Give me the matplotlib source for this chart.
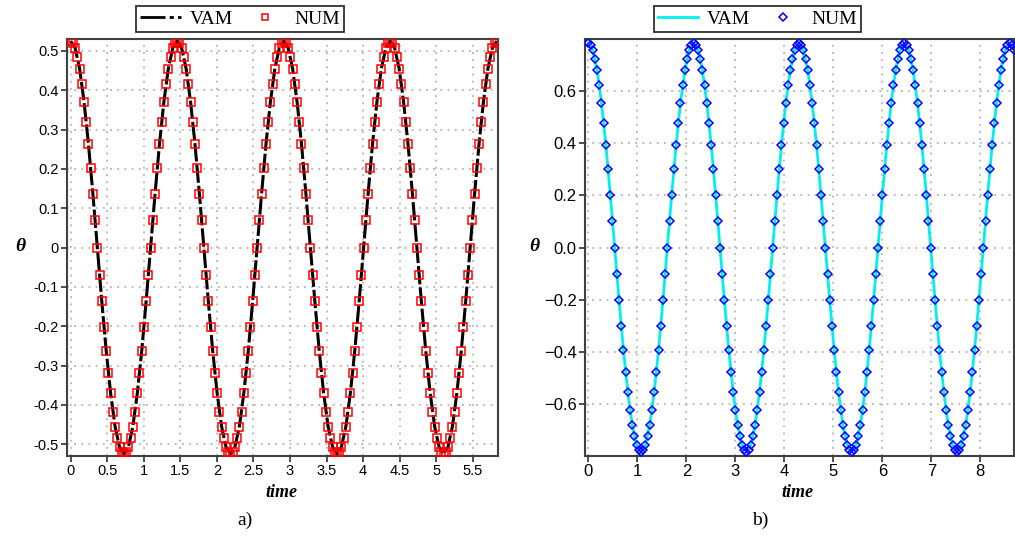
import numpy as np
import matplotlib
matplotlib.use("Agg")
import matplotlib.pyplot as plt
from matplotlib.lines import Line2D

# ---- panel a) : theta(t), period ~1.457, sampled 48 times per period ----
period_a = 1.457
num_a = [
    0.525, 0.521, 0.507, 0.485, 0.455, 0.417, 0.371, 0.320, 0.263, 0.201, 0.136, 0.069,
    0.000, -0.069, -0.136, -0.201, -0.263, -0.320, -0.371, -0.417, -0.455, -0.485, -0.507, -0.521,
    -0.525, -0.521, -0.507, -0.485, -0.455, -0.417, -0.371, -0.320, -0.263, -0.201, -0.136, -0.069,
    0.000, 0.069, 0.136, 0.201, 0.263, 0.320, 0.371, 0.417, 0.455, 0.485, 0.507, 0.521,
    0.525, 0.521, 0.507, 0.485, 0.455, 0.417, 0.371, 0.320, 0.263, 0.201, 0.136, 0.069,
    0.000, -0.069, -0.136, -0.201, -0.263, -0.320, -0.371, -0.417, -0.455, -0.485, -0.507, -0.521,
    -0.525, -0.521, -0.507, -0.485, -0.455, -0.417, -0.371, -0.320, -0.263, -0.201, -0.136, -0.069,
    0.000, 0.069, 0.136, 0.201, 0.263, 0.320, 0.371, 0.417, 0.455, 0.485, 0.507, 0.521,
    0.525, 0.521, 0.507, 0.485, 0.455, 0.417, 0.371, 0.320, 0.263, 0.201, 0.136, 0.069,
    0.000, -0.069, -0.136, -0.201, -0.263, -0.320, -0.371, -0.417, -0.455, -0.485, -0.507, -0.521,
    -0.525, -0.521, -0.507, -0.485, -0.455, -0.417, -0.371, -0.320, -0.263, -0.201, -0.136, -0.069,
    0.000, 0.069, 0.136, 0.201, 0.263, 0.320, 0.371, 0.417, 0.455, 0.485, 0.507, 0.521,
    0.525, 0.521, 0.507, 0.485, 0.455, 0.417, 0.371, 0.320, 0.263, 0.201, 0.136, 0.069,
    0.000, -0.069, -0.136, -0.201, -0.263, -0.320, -0.371, -0.417, -0.455, -0.485, -0.507, -0.521,
    -0.525, -0.521, -0.507, -0.485, -0.455, -0.417, -0.371, -0.320, -0.263, -0.201, -0.136, -0.069,
    0.000, 0.069, 0.136, 0.201, 0.263, 0.320, 0.371, 0.417, 0.455, 0.485, 0.507, 0.521,
    0.525,
]
vam_a = [
    0.525, 0.507, 0.455, 0.371, 0.263, 0.136, 0.000, -0.136, -0.263, -0.371, -0.455, -0.507,
    -0.525, -0.507, -0.455, -0.371, -0.263, -0.136, 0.000, 0.136, 0.263, 0.371, 0.455, 0.507,
    0.525, 0.507, 0.455, 0.371, 0.263, 0.136, 0.000, -0.136, -0.263, -0.371, -0.455, -0.507,
    -0.525, -0.507, -0.455, -0.371, -0.263, -0.136, 0.000, 0.136, 0.263, 0.371, 0.455, 0.507,
    0.525, 0.507, 0.455, 0.371, 0.263, 0.136, 0.000, -0.136, -0.263, -0.371, -0.455, -0.507,
    -0.525, -0.507, -0.455, -0.371, -0.263, -0.136, 0.000, 0.136, 0.263, 0.371, 0.455, 0.507,
    0.525, 0.507, 0.455, 0.371, 0.263, 0.136, 0.000, -0.136, -0.263, -0.371, -0.455, -0.507,
    -0.525, -0.507, -0.455, -0.371, -0.263, -0.136, 0.000, 0.136, 0.263, 0.371, 0.455, 0.507,
    0.525,
]
xticks_a = [0, 0.5, 1, 1.5, 2, 2.5, 3, 3.5, 4, 4.5, 5, 5.5]
xlabels_a = ["0", "0.5", "1", "1.5", "2", "2.5", "3", "3.5", "4", "4.5", "5", "5.5"]
yticks_a = [-0.5, -0.4, -0.3, -0.2, -0.1, 0, 0.1, 0.2, 0.3, 0.4, 0.5]
ylabels_a = ["-0.5", "-0.4", "-0.3", "-0.2", "-0.1", "0", "0.1", "0.2", "0.3", "0.4", "0.5"]

# ---- panel b) : theta(t), period ~2.15 ----
period_b = 2.15
num_b = [
    0.785, 0.778, 0.758, 0.725, 0.680, 0.623, 0.555, 0.478, 0.393, 0.300, 0.203, 0.102,
    0.000, -0.102, -0.203, -0.300, -0.393, -0.478, -0.555, -0.623, -0.680, -0.725, -0.758, -0.778,
    -0.785, -0.778, -0.758, -0.725, -0.680, -0.623, -0.555, -0.478, -0.393, -0.300, -0.203, -0.102,
    0.000, 0.102, 0.203, 0.300, 0.393, 0.478, 0.555, 0.623, 0.680, 0.725, 0.758, 0.778,
    0.785, 0.778, 0.758, 0.725, 0.680, 0.623, 0.555, 0.478, 0.393, 0.300, 0.203, 0.102,
    0.000, -0.102, -0.203, -0.300, -0.393, -0.478, -0.555, -0.623, -0.680, -0.725, -0.758, -0.778,
    -0.785, -0.778, -0.758, -0.725, -0.680, -0.623, -0.555, -0.478, -0.393, -0.300, -0.203, -0.102,
    0.000, 0.102, 0.203, 0.300, 0.393, 0.478, 0.555, 0.623, 0.680, 0.725, 0.758, 0.778,
    0.785, 0.778, 0.758, 0.725, 0.680, 0.623, 0.555, 0.478, 0.393, 0.300, 0.203, 0.102,
    0.000, -0.102, -0.203, -0.300, -0.393, -0.478, -0.555, -0.623, -0.680, -0.725, -0.758, -0.778,
    -0.785, -0.778, -0.758, -0.725, -0.680, -0.623, -0.555, -0.478, -0.393, -0.300, -0.203, -0.102,
    0.000, 0.102, 0.203, 0.300, 0.393, 0.478, 0.555, 0.623, 0.680, 0.725, 0.758, 0.778,
    0.785, 0.778, 0.758, 0.725, 0.680, 0.623, 0.555, 0.478, 0.393, 0.300, 0.203, 0.102,
    0.000, -0.102, -0.203, -0.300, -0.393, -0.478, -0.555, -0.623, -0.680, -0.725, -0.758, -0.778,
    -0.785, -0.778, -0.758, -0.725, -0.680, -0.623, -0.555, -0.478, -0.393, -0.300, -0.203, -0.102,
    0.000, 0.102, 0.203, 0.300, 0.393, 0.478, 0.555, 0.623, 0.680, 0.725, 0.758, 0.778,
    0.785, 0.778, 0.758,
]
vam_b = [
    0.785, 0.758, 0.680, 0.555, 0.393, 0.203, 0.000, -0.203, -0.393, -0.555, -0.680, -0.758,
    -0.785, -0.758, -0.680, -0.555, -0.393, -0.203, 0.000, 0.203, 0.393, 0.555, 0.680, 0.758,
    0.785, 0.758, 0.680, 0.555, 0.393, 0.203, 0.000, -0.203, -0.393, -0.555, -0.680, -0.758,
    -0.785, -0.758, -0.680, -0.555, -0.393, -0.203, 0.000, 0.203, 0.393, 0.555, 0.680, 0.758,
    0.785, 0.758, 0.680, 0.555, 0.393, 0.203, 0.000, -0.203, -0.393, -0.555, -0.680, -0.758,
    -0.785, -0.758, -0.680, -0.555, -0.393, -0.203, 0.000, 0.203, 0.393, 0.555, 0.680, 0.758,
    0.785, 0.758, 0.680, 0.555, 0.393, 0.203, 0.000, -0.203, -0.393, -0.555, -0.680, -0.758,
    -0.785, -0.758, -0.680, -0.555, -0.393, -0.203, 0.000, 0.203, 0.393, 0.555, 0.680, 0.758,
    0.785, 0.758,
]
xticks_b = [0, 1, 2, 3, 4, 5, 6, 7, 8]
xlabels_b = ["0", "1", "2", "3", "4", "5", "6", "7", "8"]
yticks_b = [-0.6, -0.4, -0.2, 0.0, 0.2, 0.4, 0.6]
ylabels_b = ["\u22120.6", "\u22120.4", "\u22120.2", "0.0", "0.2", "0.4", "0.6"]

SERIF = ["Liberation Serif", "DejaVu Serif"]
SANS = ["Liberation Sans", "DejaVu Sans"]


def style_axes(ax, xticks, xlabels, yticks, ylabels, fs):
    ax.set_xticks(xticks)
    ax.set_xticklabels(xlabels, family=SANS, fontsize=fs)
    ax.set_yticks(yticks)
    ax.set_yticklabels(ylabels, family=SANS, fontsize=fs)
    ax.tick_params(direction="out", length=4, width=1.3, color="#404040", pad=2)
    for s in ax.spines.values():
        s.set_color("#404040")
        s.set_linewidth(1.5)
    ax.grid(True, color="#a8a8a8", linestyle=(0, (1.2, 3.5)), linewidth=1.1)
    ax.set_axisbelow(True)


def add_legend(ax, line_handle, marker_handle):
    leg = ax.legend([line_handle, marker_handle], ["VAM", "NUM"], ncol=2,
                    loc="lower center", bbox_to_anchor=(0.402, 1.018), borderaxespad=0,
                    prop={"family": SERIF, "size": 14}, frameon=True, fancybox=False,
                    edgecolor="#303030", handlelength=2.1, handletextpad=0.45,
                    columnspacing=0.6, borderpad=0.2, framealpha=1)
    leg.get_frame().set_linewidth(1.3)


fig = plt.figure(figsize=(10.15, 5.38), dpi=100)
ax1 = fig.add_axes([0.0657, 0.1524, 0.4246, 0.775])
ax2 = fig.add_axes([0.5764, 0.1524, 0.4227, 0.775])

# panel a
t_num_a = np.arange(len(num_a)) * period_a / 48
t_vam_a = np.arange(len(vam_a)) * period_a / 24
ax1.plot(t_vam_a, vam_a, color="black", linewidth=2.2, linestyle=(0, (6, 1)), zorder=2)
ax1.plot(t_num_a, num_a, linestyle="none", marker="s", markersize=5.2,
         markerfacecolor="none", markeredgecolor="#ff0000", markeredgewidth=1.1, zorder=3)
ax1.set_xlim(-0.055, 5.84)
ax1.set_ylim(-0.53, 0.53)
style_axes(ax1, xticks_a, xlabels_a, yticks_a, ylabels_a, 10.5)
add_legend(ax1,
           Line2D([], [], color="black", linewidth=2, linestyle=(0, (9, 1.5, 1.5, 1.5))),
           Line2D([], [], linestyle="none", marker="s", markersize=4.5,
                  markerfacecolor="none", markeredgecolor="#ff0000", markeredgewidth=1.1))

# panel b
t_num_b = np.arange(len(num_b)) * period_b / 48
t_vam_b = np.arange(len(vam_b)) * period_b / 24
ax2.plot(t_vam_b, vam_b, color="#00f0f0", linewidth=2.0, zorder=2)
ax2.plot(t_num_b, num_b, linestyle="none", marker="D", markersize=4.3,
         markerfacecolor="none", markeredgecolor="#0000ff", markeredgewidth=1.1, zorder=3)
ax2.set_xlim(-0.067, 8.69)
ax2.set_ylim(-0.8, 0.8)
style_axes(ax2, xticks_b, xlabels_b, yticks_b, ylabels_b, 12)
add_legend(ax2,
           Line2D([], [], color="#00f0f0", linewidth=2),
           Line2D([], [], linestyle="none", marker="D", markersize=3.8,
                  markerfacecolor="none", markeredgecolor="#0000ff", markeredgewidth=1.1))

# axis titles and captions
for x in (0.277, 0.786):
    fig.text(x, 0.085, "time", family=SERIF, fontsize=13, fontweight="bold",
             style="italic", ha="center", va="center")
for x in (0.020, 0.526):
    fig.text(x, 0.541, "\u03b8", family=SERIF, fontsize=14, fontweight="bold",
             style="italic", ha="center", va="center")
fig.text(0.241, 0.033, "a)", family=SERIF, fontsize=14, ha="center", va="center")
fig.text(0.749, 0.033, "b)", family=SERIF, fontsize=14, ha="center", va="center")

fig.savefig("out.png", dpi=100)
